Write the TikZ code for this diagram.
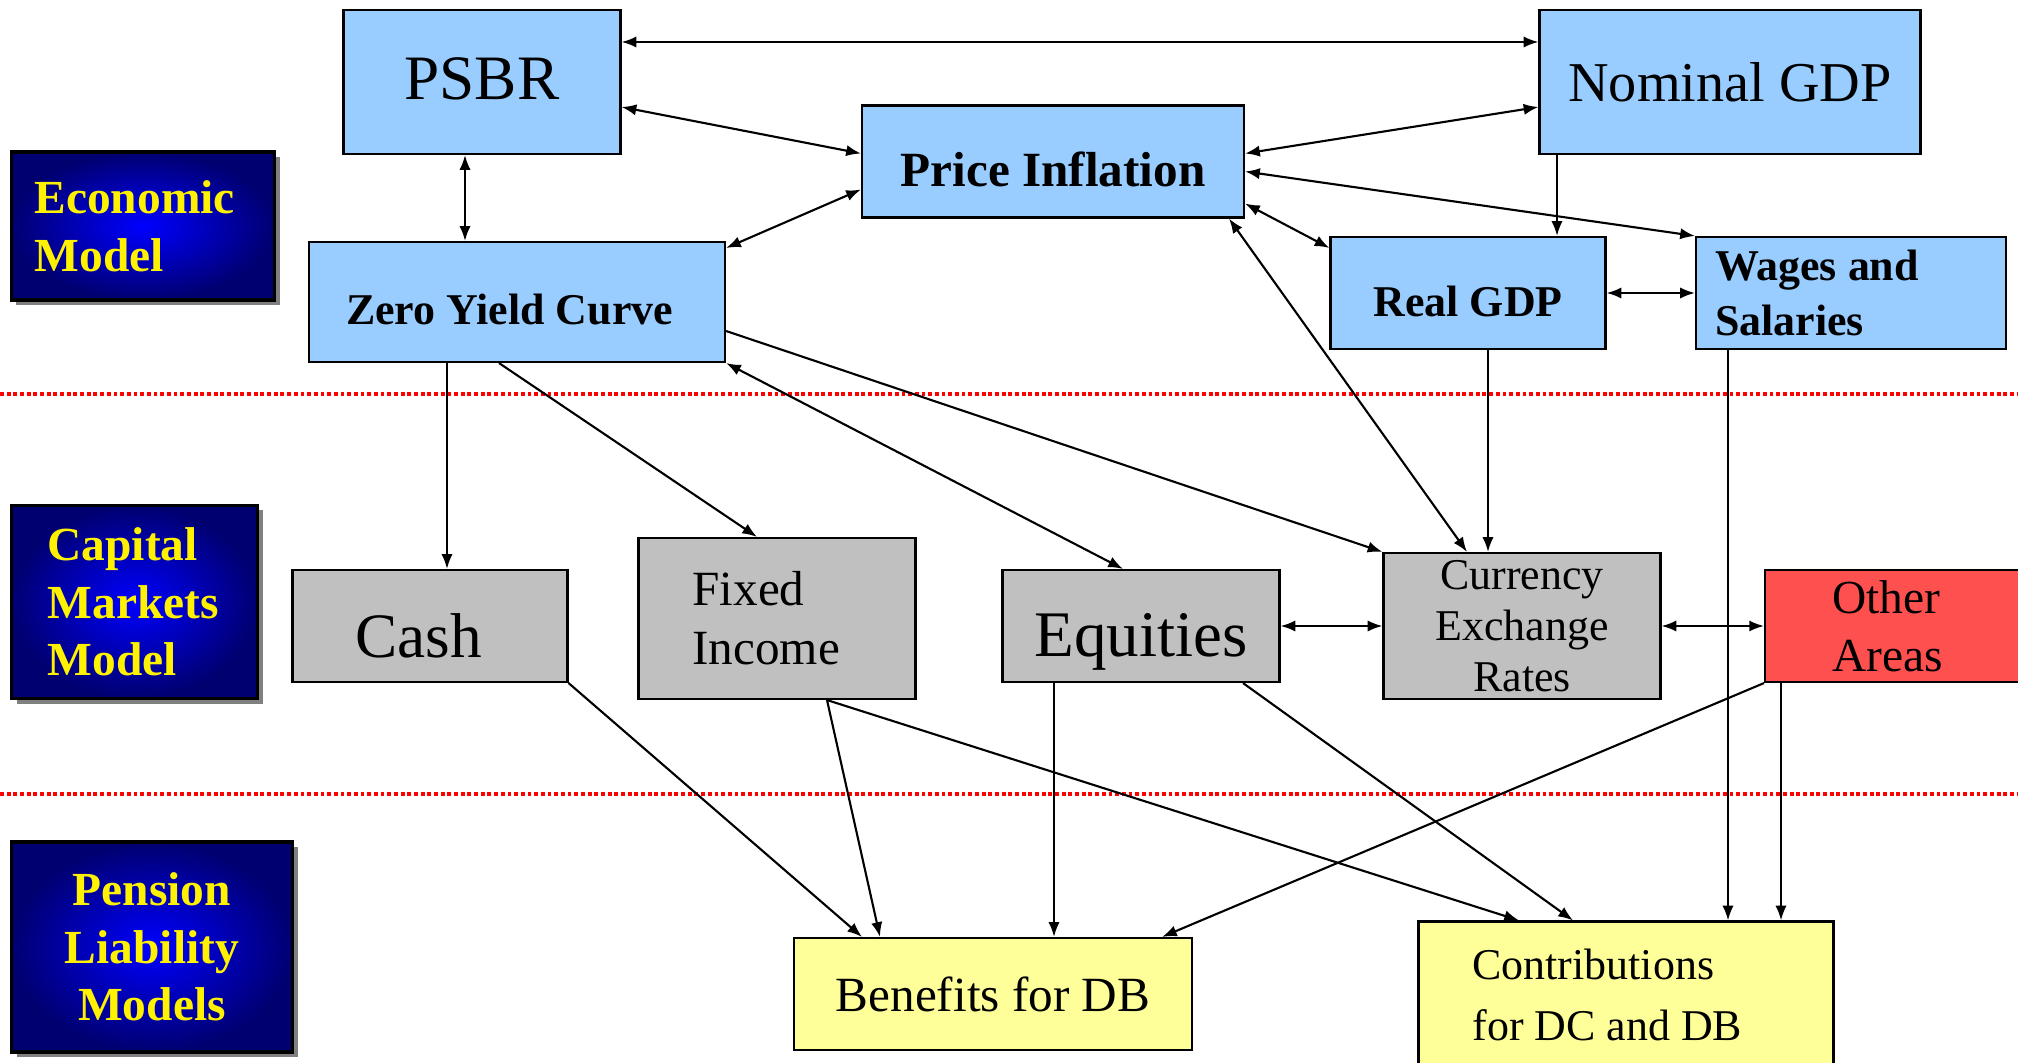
\documentclass[tikz,border=0pt]{standalone}
\usepackage{fontspec}
\setmainfont{Liberation Serif}
\usepackage{xcolor}
\usetikzlibrary{arrows.meta,shadows}

\definecolor{skyblue}{RGB}{153,204,255}
\definecolor{silver}{RGB}{192,192,192}
\definecolor{salmon}{RGB}{255,80,80}
\definecolor{paleyellow}{RGB}{255,255,153}
\definecolor{deepnavy}{RGB}{0,0,112}
\newcommand{\boxfont}[2]{\fontsize{#1}{#2}\selectfont}

\begin{document}
\begin{tikzpicture}[>={Latex[length=4.2pt,width=3.2pt]}, line width=0.6pt,
  box/.style={draw=black, line width=0.6pt, inner sep=0pt, align=center},
  econ/.style={box, fill=skyblue},
  market/.style={box, fill=silver},
  pension/.style={box, fill=paleyellow},
  layer/.style={draw=black, line width=1pt, inner sep=0pt, text=yellow,
    font=\boxfont{13.5}{16.4}\bfseries, inner color=blue, outer color=deepnavy,
    drop shadow={shadow xshift=0.05cm, shadow yshift=-0.05cm, fill=gray, opacity=1}},
  sep/.style={red, line width=1.2pt, dash pattern=on 1.1pt off 0.8pt}]
\useasboundingbox (0,0) rectangle (20.18,-10.63);
\clip (0,0) rectangle (20.18,-10.63);

% layer labels
\node[layer, minimum width=2.63cm, minimum height=1.48cm, text width=2.17cm, inner xsep=0.23cm, align=flush left]
  (lecon) at (1.43,-2.26) {Economic\\Model};
\node[layer, minimum width=2.46cm, minimum height=1.93cm, text width=1.74cm, inner xsep=0.36cm, align=flush left]
  (lcap) at (1.345,-6.02) {Capital\\Markets\\Model};
\node[layer, minimum width=2.81cm, minimum height=2.10cm, align=center]
  (lpen) at (1.52,-9.47) {Pension\\Liability\\Models};

% separators
\draw[sep] (0,-3.94) -- (20.18,-3.94);
\draw[sep] (0,-7.94) -- (20.18,-7.94);

% economic model
\node[econ, minimum width=2.77cm, minimum height=1.44cm, text height=9.7pt, text depth=0pt, font=\boxfont{18}{21}]
  (psbr) at (4.82,-0.82) {PSBR};
\node[econ, minimum width=3.81cm, minimum height=1.44cm, font=\boxfont{16}{19}]
  (ngdp) at (17.30,-0.82) {Nominal GDP};
\node[econ, minimum width=3.82cm, minimum height=1.12cm, text height=14.5pt, text depth=0pt,
  font=\boxfont{14}{17}\bfseries]
  (infl) at (10.53,-1.615) {Price Inflation};
\node[econ, minimum width=4.16cm, minimum height=1.20cm, text width=3.42cm, inner xsep=0.37cm, align=flush left,
  text height=12.9pt, text depth=0pt, font=\boxfont{12.5}{15}\bfseries]
  (zyc) at (5.17,-3.02) {Zero Yield Curve};
\node[econ, minimum width=2.75cm, minimum height=1.12cm, text height=13.5pt, text depth=0pt,
  font=\boxfont{12.5}{15}\bfseries]
  (rgdp) at (14.68,-2.93) {Real GDP};
\node[econ, minimum width=3.10cm, minimum height=1.12cm, text width=2.72cm, inner xsep=0.19cm, align=flush left,
  font=\boxfont{12.5}{15.6}\bfseries]
  (wages) at (18.51,-2.93) {Wages and\\Salaries};

% capital markets model
\node[market, minimum width=2.75cm, minimum height=1.12cm, text width=1.49cm, inner xsep=0.63cm, align=flush left,
  text height=18pt, text depth=0pt, font=\boxfont{18}{21}]
  (cash) at (4.30,-6.26) {Cash};
\node[market, minimum width=2.77cm, minimum height=1.61cm, text width=1.69cm, inner xsep=0.54cm, align=flush left,
  font=\boxfont{14}{16.8}]
  (fi) at (7.77,-6.185) {Fixed\\Income};
\node[market, minimum width=2.77cm, minimum height=1.12cm, text height=17.2pt, text depth=0pt,
  font=\boxfont{18.5}{21}]
  (eq) at (11.41,-6.26) {Equities};
\node[market, minimum width=2.77cm, minimum height=1.46cm, font=\boxfont{12.5}{14.5}]
  (fx) at (15.22,-6.26) {Currency\\Exchange\\Rates};
\node[box, fill=salmon, anchor=west, minimum width=2.8cm, minimum height=1.12cm, text width=1.46cm,
  inner xsep=0.67cm, align=flush left, font=\boxfont{13.5}{16.5}]
  (other) at (17.64,-6.26) {Other\\Areas};

% pension liability models
\node[pension, minimum width=3.98cm, minimum height=1.12cm, font=\boxfont{14}{17}]
  (ben) at (9.93,-9.94) {Benefits for DB};
\node[pension, minimum width=4.15cm, minimum height=1.47cm, text width=3.07cm, inner xsep=0.54cm, align=flush left,
  font=\boxfont{12.5}{17.6}]
  (contr) at (16.26,-9.95) {Contributions\\for DC and DB};

% links inside the economic model
\draw[<->] ([yshift=0.4cm]psbr.east) -- ([yshift=0.4cm]ngdp.west);
\draw[<->] ([yshift=-0.25cm]psbr.east) -- ([yshift=0.08cm]infl.west);
\draw[<->] ([yshift=-0.25cm]ngdp.west) -- ([yshift=0.08cm]infl.east);
\draw[<->] ([xshift=-0.17cm]psbr.south) -- ([xshift=-0.17cm]psbr.south |- zyc.north);
\draw[<->] ([yshift=-0.28cm]infl.west) -- ([yshift=0.54cm]zyc.east);
\draw[->] ([xshift=-1.73cm]ngdp.south) -- ([xshift=-1.73cm]ngdp.south |- rgdp.north);
\draw[<->] ([yshift=-0.1cm]infl.east) -- (wages.north west);
\draw[<->] ([yshift=-0.42cm]infl.east) -- ([yshift=0.45cm]rgdp.west);
\draw[<->] (rgdp.east) -- (wages.west);

% economic model to capital markets
\draw[<->] ([xshift=1.76cm]infl.south) -- ([xshift=-0.55cm]fx.north);
\draw[->] ([xshift=0.2cm]rgdp.south) -- ([xshift=0.2cm]rgdp.south |- fx.north);
\draw[->] ([yshift=-0.29cm]zyc.east) -- (fx.north west);
\draw[->] ([xshift=-0.7cm]zyc.south) -- ([xshift=-0.7cm]zyc.south |- cash.north);
\draw[->] ([xshift=-0.18cm]zyc.south) -- ([xshift=-0.2cm]fi.north);
\draw[<->] (zyc.south east) -- ([xshift=-0.18cm]eq.north);
\draw[<->] (eq.east) -- (fx.west);
\draw[<->] (fx.east) -- (other.west);

% capital markets to pension liabilities
\draw[->] (cash.south east) -- ([xshift=-1.31cm]ben.north);
\draw[->] ([xshift=0.5cm]fi.south) -- ([xshift=-1.13cm]ben.north);
\draw[->] ([xshift=0.5cm]fi.south) -- ([xshift=-1.07cm]contr.north);
\draw[->] ([xshift=-0.87cm]eq.south) -- ([xshift=-0.87cm]eq.south |- ben.north);
\draw[->] ([xshift=1.02cm]eq.south) -- ([xshift=-0.53cm]contr.north);
\draw[->] (other.south west) -- ([xshift=1.69cm]ben.north);
\draw[->] ([xshift=-1.23cm]wages.south) -- ([xshift=-1.23cm]wages.south |- contr.north);
\draw[->] ([xshift=0.17cm]other.south west) -- ([xshift=0.17cm]other.south west |- contr.north);
\end{tikzpicture}
\end{document}
